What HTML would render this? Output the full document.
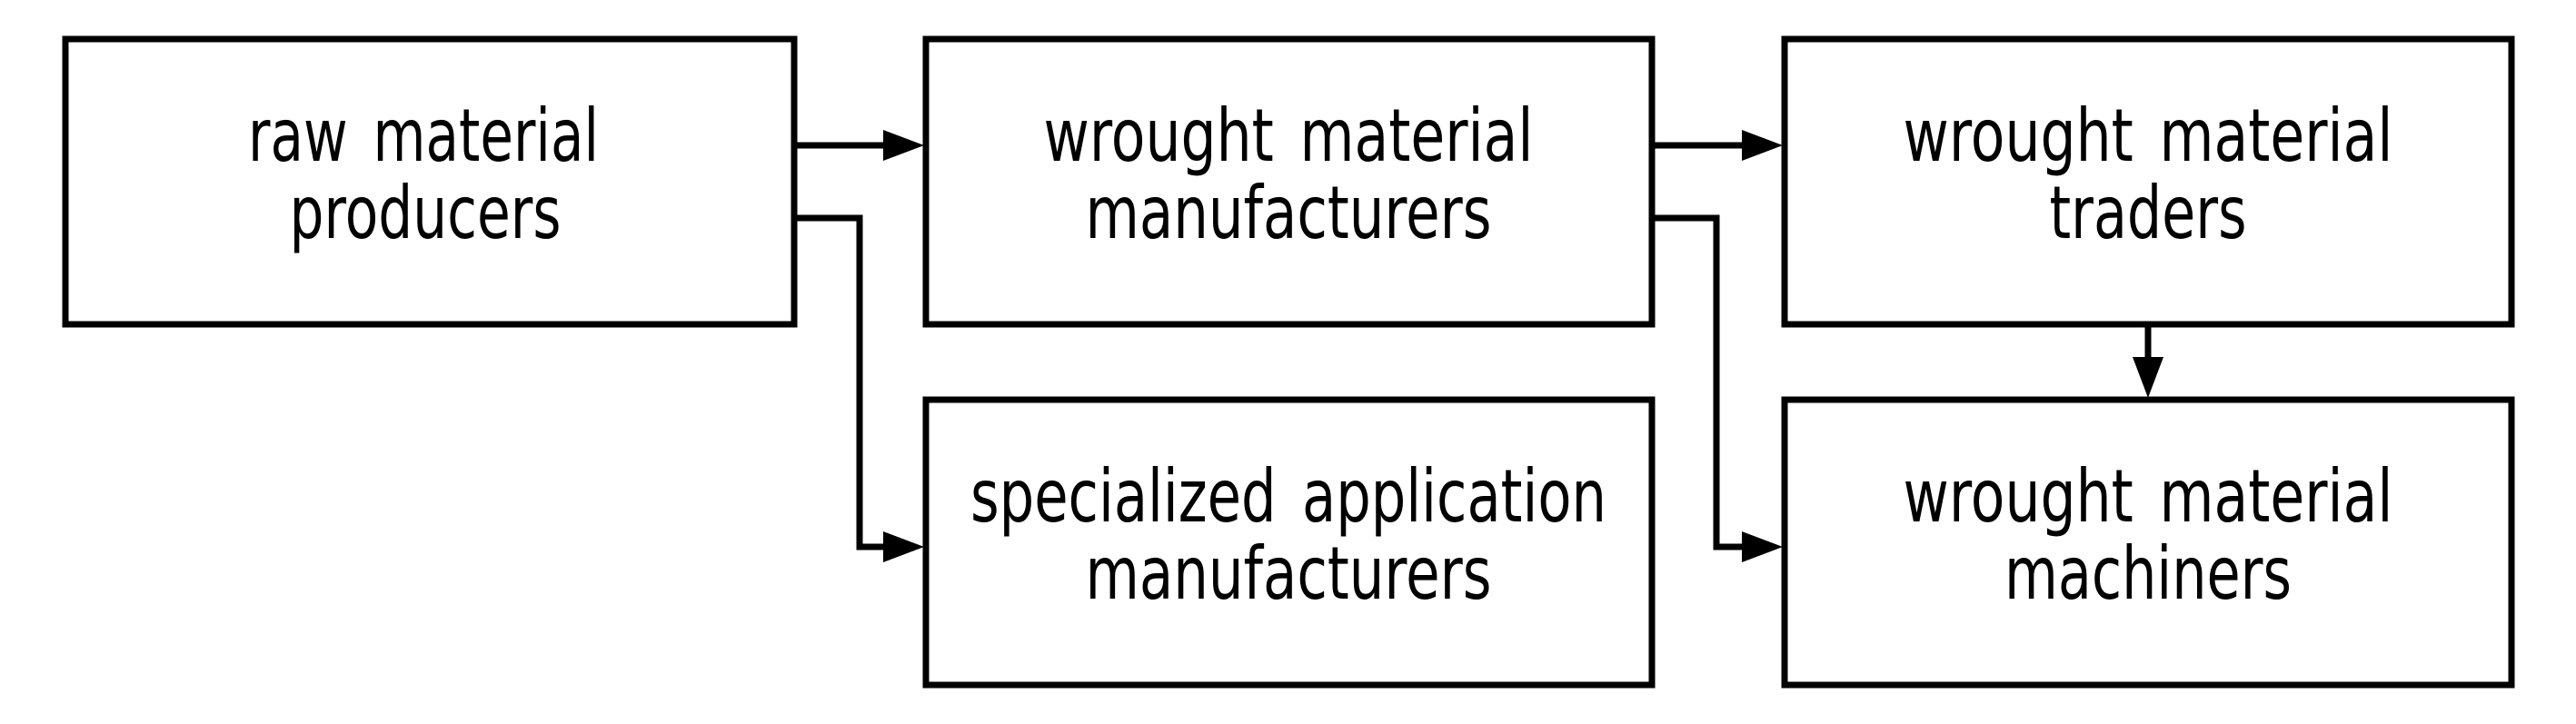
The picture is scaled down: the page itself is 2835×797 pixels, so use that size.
<!DOCTYPE html>
<html><head><meta charset="utf-8"><style>html,body{margin:0;padding:0;background:#fff}svg{display:block}</style></head>
<body>
<svg width="2835" height="797" viewBox="0 0 2835 797" xmlns="http://www.w3.org/2000/svg">
<g fill="none" stroke="#000" stroke-width="7">
<rect x="72" y="43" width="802" height="314"/>
<rect x="1019" y="43" width="799" height="314"/>
<rect x="1964" y="43" width="800" height="314"/>
<rect x="1019" y="440" width="799" height="314"/>
<rect x="1964" y="440" width="800" height="314"/>
<path d="M874 160 H978"/>
<path d="M874 240 H946 V602 H978"/>
<path d="M1818 160 H1922"/>
<path d="M1818 240 H1889 V602 H1922"/>
<path d="M2364 357 V396"/>
</g>
<g fill="#000">
<polygon points="972,143 1017,160 972,177"/>
<polygon points="972,585 1017,602 972,619"/>
<polygon points="1917,143 1962,160 1917,177"/>
<polygon points="1917,585 1962,602 1917,619"/>
<polygon points="2347,393 2364,438 2381,393"/>
</g>
<g font-family="'DejaVu Sans','Liberation Sans',sans-serif" font-size="80" text-anchor="middle" fill="#000" word-spacing="12">
<text x="466" y="177" textLength="386" lengthAdjust="spacingAndGlyphs">raw material</text>
<text x="468" y="262" textLength="299" lengthAdjust="spacingAndGlyphs">producers</text>
<text x="1418" y="177" textLength="539" lengthAdjust="spacingAndGlyphs">wrought material</text>
<text x="1418" y="262" textLength="447" lengthAdjust="spacingAndGlyphs">manufacturers</text>
<text x="2364" y="177" textLength="539" lengthAdjust="spacingAndGlyphs">wrought material</text>
<text x="2364" y="262" textLength="217" lengthAdjust="spacingAndGlyphs">traders</text>
<text x="1418" y="574" textLength="700" lengthAdjust="spacingAndGlyphs">specialized application</text>
<text x="1418" y="659" textLength="447" lengthAdjust="spacingAndGlyphs">manufacturers</text>
<text x="2364" y="574" textLength="539" lengthAdjust="spacingAndGlyphs">wrought material</text>
<text x="2364" y="659" textLength="316" lengthAdjust="spacingAndGlyphs">machiners</text>
</g>
</svg>
</body></html>
